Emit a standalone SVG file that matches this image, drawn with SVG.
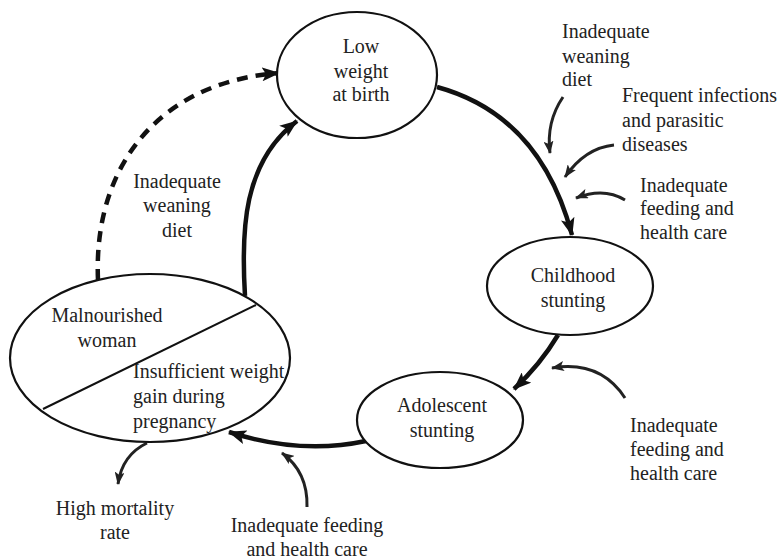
<svg xmlns="http://www.w3.org/2000/svg" width="781" height="560" viewBox="0 0 781 560">
<defs>
<style>
.node{fill:#fff;stroke:#111;stroke-width:2.2}
.t{font-size:20px;fill:#222}
.c{text-anchor:middle}
.thick{fill:none;stroke:#111;stroke-width:4.5}
.thin{fill:none;stroke:#222;stroke-width:3}
.dash{fill:none;stroke:#111;stroke-width:4.5;stroke-dasharray:11 8}
</style>
<marker id="ah" markerUnits="userSpaceOnUse" markerWidth="20" markerHeight="14" refX="17" refY="7" orient="auto">
<path d="M0,0 L18,7 L0,14 L4,7 z" fill="#111"/>
</marker>
<marker id="ahs" markerUnits="userSpaceOnUse" markerWidth="14" markerHeight="10" refX="12" refY="5" orient="auto">
<path d="M0,0 L13,5 L0,10 L3,5 z" fill="#222"/>
</marker>
</defs>
<rect width="781" height="560" fill="#fff"/>
<g id="connectors">
<path class="thick" d="M437,87 Q540,115 572,235" marker-end="url(#ah)"/>
<path class="thick" d="M558,335 Q540,365 514,389" marker-end="url(#ah)"/>
<path class="thick" d="M366,441 Q300,455 229,432" marker-end="url(#ah)"/>
<path class="thick" d="M245,296 C241,230 243,162 297,121" marker-end="url(#ah)"/>
<path class="dash" d="M98,280 C93,165 160,82 279,73" marker-end="url(#ah)"/>
<path class="thin" d="M563,97 Q546,122 550,153" marker-end="url(#ahs)"/>
<path class="thin" d="M614,145 Q585,148 565,177" marker-end="url(#ahs)"/>
<path class="thin" d="M625,200 Q604,187 576,198" marker-end="url(#ahs)"/>
<path class="thin" d="M625,398 Q600,360 552,368" marker-end="url(#ahs)"/>
<path class="thin" d="M307,507 Q308,472 282,453" marker-end="url(#ahs)"/>
<path class="thin" d="M147,443 Q122,455 118,484" marker-end="url(#ahs)"/>
</g>
<g font-family="'Liberation Serif', 'Times New Roman', 'DejaVu Serif', serif">
<g id="low-weight">
<ellipse class="node" cx="357" cy="75" rx="80" ry="63"/>
<text class="t c" x="361" y="53">Low</text>
<text class="t c" x="361" y="78">weight</text>
<text class="t c" x="361" y="101">at birth</text>
</g>
<g id="childhood">
<ellipse class="node" cx="570" cy="286" rx="83" ry="49"/>
<text class="t c" x="573" y="282">Childhood</text>
<text class="t c" x="573" y="307">stunting</text>
</g>
<g id="adolescent">
<ellipse class="node" cx="440" cy="420" rx="83" ry="48"/>
<text class="t c" x="442" y="412">Adolescent</text>
<text class="t c" x="442" y="437">stunting</text>
</g>
<g id="woman">
<ellipse class="node" cx="150" cy="358" rx="140" ry="84"/>
<line x1="256" y1="305" x2="43" y2="409" stroke="#111" stroke-width="2"/>
<text class="t c" x="107" y="322">Malnourished</text>
<text class="t c" x="107" y="347">woman</text>
<text class="t" x="133" y="378">Insufficient weight</text>
<text class="t" x="133" y="403">gain during</text>
<text class="t" x="133" y="428">pregnancy</text>
</g>
<g id="labels">
<text class="t" x="562" y="38">Inadequate</text>
<text class="t" x="562" y="63">weaning</text>
<text class="t" x="562" y="86">diet</text>
<text class="t" x="622" y="102">Frequent infections</text>
<text class="t" x="622" y="127">and parasitic</text>
<text class="t" x="622" y="151">diseases</text>
<text class="t" x="640" y="192">Inadequate</text>
<text class="t" x="640" y="215">feeding and</text>
<text class="t" x="640" y="239">health care</text>
<text class="t" x="630" y="432">Inadequate</text>
<text class="t" x="630" y="456">feeding and</text>
<text class="t" x="630" y="480">health care</text>
<text class="t c" x="177" y="188">Inadequate</text>
<text class="t c" x="177" y="212">weaning</text>
<text class="t c" x="177" y="237">diet</text>
<text class="t c" x="115" y="515">High mortality</text>
<text class="t c" x="115" y="539">rate</text>
<text class="t c" x="307" y="532">Inadequate feeding</text>
<text class="t c" x="307" y="556">and health care</text>
</g>
</g>
</svg>
